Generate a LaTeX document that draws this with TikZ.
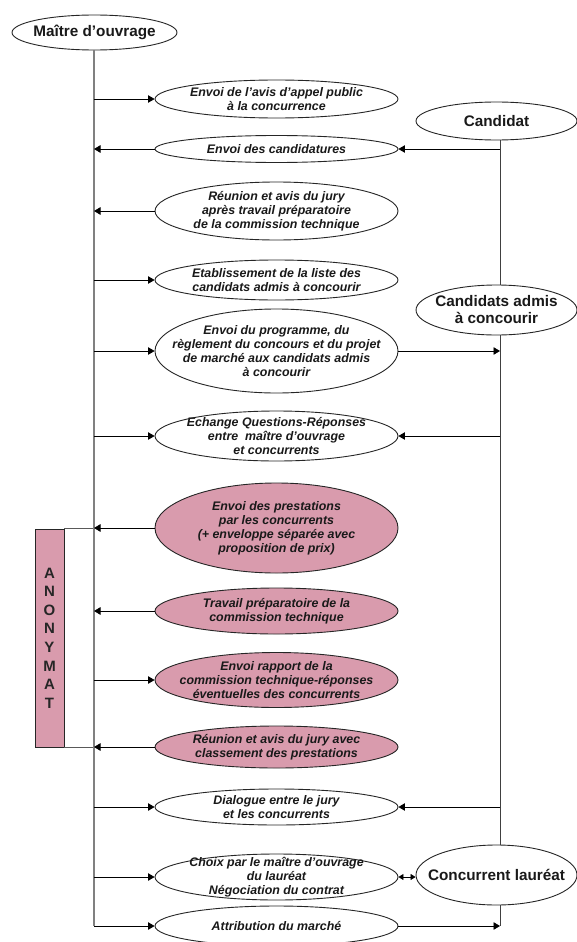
\documentclass[tikz,border=0pt]{standalone}
\usepackage{fontspec}
\setmainfont{Liberation Sans}
\usetikzlibrary{shapes.geometric,arrows.meta}
\definecolor{pinkfill}{HTML}{D99BAD}
\definecolor{linegray}{HTML}{808080}
\tikzset{
  ell/.style={ellipse,draw=black!85,line width=0.9pt,fill=white,inner sep=0pt,minimum width=243pt},
  pinkell/.style={ell,fill=pinkfill},
  txt/.style={align=center,inner sep=0pt,font=\fontsize{12.4}{14}\selectfont\bfseries\itshape,text=black!90},
  actor/.style={ellipse,draw=black!85,line width=0.9pt,fill=white,inner sep=0pt},
  atxt/.style={align=center,inner sep=0pt,font=\fontsize{15.3}{17}\selectfont\bfseries,text=black!90},
  arr/.style={line width=0.8pt,draw=black,-{Triangle[length=6.5pt,width=7.5pt]}},
  dblarr/.style={line width=0.8pt,draw=black,{Triangle[length=5pt,width=6pt]}-{Triangle[length=5pt,width=6pt]}},
  lvline/.style={line width=1.2pt,draw=linegray},
  rvline/.style={line width=1pt,draw=black!75},
  boxline/.style={line width=0.8pt,draw=black!65},
}
\begin{document}
\begin{tikzpicture}[x=1pt,y=-1pt]
\useasboundingbox (0,0) rectangle (576,942);
\fill[white] (0,0) rectangle (576,942);

\coordinate (lx) at (94,0);
\coordinate (rx) at (500,0);

% actors
\node[actor,minimum width=165pt,minimum height=35pt] (mo) at (94.5,32.5) {};
\node[atxt] at (mo) {Maître d’ouvrage};
\node[actor,minimum width=161pt,minimum height=38pt] (cand) at (496.5,121) {};
\node[atxt] at (cand) {Candidat};
\node[actor,minimum width=161pt,minimum height=50pt] (adm) at (496.5,310) {};
\node[atxt] at (adm) {Candidats admis\\à concourir};
\node[actor,minimum width=161pt,minimum height=60pt] (laur) at (496.5,875) {};
\node[atxt] at (laur) {Concurrent lauréat};

% steps
\node[ell,minimum height=38pt] (e1) at (276.5,99) {};
\node[txt] at (e1) {Envoi de l’avis d’appel public\\à la concurrence};
\node[ell,minimum height=27pt] (e2) at (276.5,149) {};
\node[txt] at (e2) {Envoi des candidatures};
\node[ell,minimum height=58pt] (e3) at (276.5,211) {};
\node[txt] at (e3) {Réunion et avis du jury\\après travail préparatoire\\de la commission technique};
\node[ell,minimum height=40pt] (e4) at (276.5,280) {};
\node[txt] at (e4) {Etablissement de la liste des\\candidats admis à concourir};
\node[ell,minimum height=84pt] (e5) at (276.5,351) {};
\node[txt] at (e5) {Envoi du programme, du\\règlement du concours et du projet\\de marché aux candidats admis\\à concourir};
\node[ell,minimum height=50pt] (e6) at (276.5,436) {};
\node[txt] at (e6) {Echange Questions-Réponses\\entre\ \ maître d’ouvrage\\et concurrents};
\node[pinkell,minimum height=90pt] (e7) at (276.5,528) {};
\node[txt] at (e7) {Envoi des prestations\\par les concurrents\\(+ enveloppe séparée avec\\proposition de prix)};
\node[pinkell,minimum height=46pt] (e8) at (276.5,611) {};
\node[txt] at (e8) {Travail préparatoire de la\\commission technique};
\node[pinkell,minimum height=55pt] (e9) at (276.5,680) {};
\node[txt] at (e9) {Envoi rapport de la\\commission technique-réponses\\éventuelles des concurrents};
\node[pinkell,minimum height=42pt] (e10) at (276.5,747) {};
\node[txt] at (e10) {Réunion et avis du jury avec\\classement des prestations};
\node[ell,minimum height=36pt] (e11) at (276.5,807) {};
\node[txt] at (e11) {Dialogue entre le jury\\et les concurrents};
\node[ell,minimum height=46pt] (e12) at (276.5,877) {};
\node[txt] at (e12) {Choix par le maître d’ouvrage\\du lauréat\\Négociation du contrat};
\node[ell,minimum height=40pt] (e13) at (276.5,926) {};
\node[txt] at (e13) {Attribution du marché};

% ANONYMAT box
\node[draw=black!85,line width=0.8pt,fill=pinkfill,minimum width=29pt,minimum height=218pt,inner sep=0pt] (anon) at (49.5,638) {};
\node[align=center,inner sep=0pt,font=\fontsize{15}{18.6}\selectfont\bfseries,text=black!85] at (anon) {A\\N\\O\\N\\Y\\M\\A\\T};
\draw[boxline] (anon.north east) -- (anon.north east -| lx);
\draw[boxline] (anon.south east) -- (anon.south east -| lx);

% vertical lines
\draw[lvline] (lx |- mo.south) -- (lx |- e13);
\draw[rvline] (rx |- cand.south) -- (rx |- adm.north);
\draw[rvline] (rx |- adm.south) -- (rx |- laur.north);
\draw[rvline] (rx |- laur.south) -- (rx |- e13);

% left arrows
\draw[arr] (e1.west -| lx) -- (e1.west);
\draw[arr] (e2.west) -- (e2.west -| lx);
\draw[arr] (e3.west) -- (e3.west -| lx);
\draw[arr] (e4.west -| lx) -- (e4.west);
\draw[arr] (e5.west -| lx) -- (e5.west);
\draw[arr] (e6.west -| lx) -- (e6.west);
\draw[arr] (e7.west) -- (e7.west -| lx);
\draw[arr] (e8.west) -- (e8.west -| lx);
\draw[arr] (e9.west -| lx) -- (e9.west);
\draw[arr] (e10.west) -- (e10.west -| lx);
\draw[arr] (e11.west -| lx) -- (e11.west);
\draw[arr] (e12.west -| lx) -- (e12.west);
\draw[arr] (e13.west -| lx) -- (e13.west);

% right arrows
\draw[arr] (e2.east -| rx) -- (e2.east);
\draw[arr] (e5.east) -- (e5.east -| rx);
\draw[arr] (e6.east -| rx) -- (e6.east);
\draw[arr] (e11.east -| rx) -- (e11.east);
\draw[dblarr] (e12.east) -- (e12.east -| laur.west);
\draw[arr] (e13.east) -- (e13.east -| rx);
\end{tikzpicture}
\end{document}
